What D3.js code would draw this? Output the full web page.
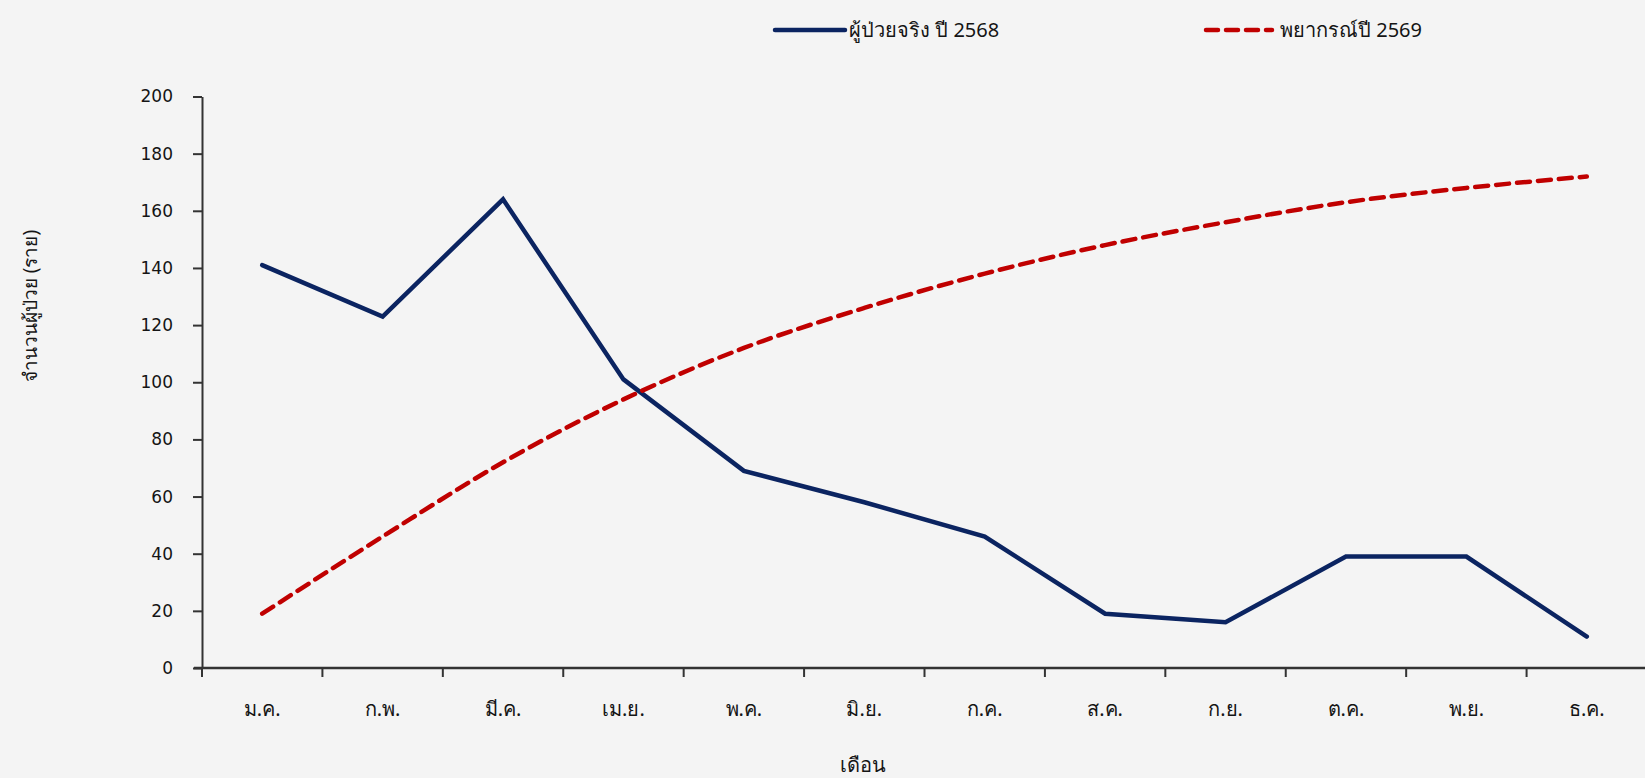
<!DOCTYPE html>
<html>
<head>
<meta charset="utf-8">
<script src="https://cdn.jsdelivr.net/npm/d3@7"></script>
<style>
  html, body { margin: 0; padding: 0; background: #f4f4f4; }
  svg { display: block; }
  text { font-family: "Noto Sans", "DejaVu Sans", sans-serif; fill: #151515; }
</style>
</head>
<body>
<svg id="chart" width="1645" height="778"></svg>
<script>
// Months (Thai abbreviations)
const months = ["ม.ค.", "ก.พ.", "มี.ค.", "เม.ย.", "พ.ค.", "มิ.ย.", "ก.ค.", "ส.ค.", "ก.ย.", "ต.ค.", "พ.ย.", "ธ.ค."];
// Actual patients, 2568
const actual2568 = [141, 123, 164, 101, 69, 58, 46, 19, 16, 39, 39, 11];
// Forecast, 2569
const forecast2569 = [19, 46, 72, 94, 112, 126, 138, 148, 156, 163, 168, 172];
const yTicks = [0, 20, 40, 60, 80, 100, 120, 140, 160, 180, 200];

const seriesNames = ["ผู้ป่วยจริง ปี 2568", "พยากรณ์ปี 2569"];
const colors = ["#0b2461", "#c00000"];

const svg = d3.select("#chart");
const W = 1645, H = 778;
svg.append("rect").attr("width", W).attr("height", H).attr("fill", "#f4f4f4");

const x = d3.scaleBand().domain(months).range([202, 1647]).paddingInner(0).paddingOuter(0);
const y = d3.scaleLinear().domain([0, 200]).range([668, 96.5]);

// Y axis
const yAxis = svg.append("g")
  .attr("transform", "translate(202,0)")
  .call(d3.axisLeft(y).tickValues(yTicks).tickSize(9).tickPadding(20).tickSizeOuter(0));
yAxis.select(".domain").attr("stroke", "#333").attr("stroke-width", 2);
yAxis.selectAll(".tick line").attr("stroke", "#333").attr("stroke-width", 2);
yAxis.selectAll(".tick text").attr("font-size", 17).attr("fill", "#151515")
  .style("font-family", "'DejaVu Sans', sans-serif");

// X axis with ticks at band boundaries
const xAxisG = svg.append("g").attr("transform", "translate(0,668)");
xAxisG.append("line").attr("x1", 194).attr("x2", 1647).attr("stroke", "#333").attr("stroke-width", 2.5);
const boundaries = months.map(m => x(m));
xAxisG.selectAll("line.tk").data(boundaries).join("line")
  .attr("class", "tk").attr("x1", d => d).attr("x2", d => d)
  .attr("y1", 0).attr("y2", 9).attr("stroke", "#333").attr("stroke-width", 2);
xAxisG.selectAll("text.lbl").data(months).join("text")
  .attr("class", "lbl")
  .attr("x", d => x(d) + x.bandwidth() / 2)
  .attr("y", 48)
  .attr("text-anchor", "middle")
  .attr("font-size", 20)
  .text(d => d);

// Axis titles
svg.append("text")
  .attr("transform", "translate(37,306) rotate(-90)")
  .attr("text-anchor", "middle")
  .attr("font-size", 19)
  .text("จำนวนผู้ป่วย (ราย)");
svg.append("text")
  .attr("x", 863).attr("y", 772)
  .attr("text-anchor", "middle")
  .attr("font-size", 20)
  .text("เดือน");

const cx = m => x(m) + x.bandwidth() / 2;

// Actual line
const lineActual = d3.line().x((d, i) => cx(months[i])).y(d => y(d));
svg.append("path").datum(actual2568)
  .attr("d", lineActual)
  .attr("fill", "none").attr("stroke", colors[0]).attr("stroke-width", 4.5)
  .attr("stroke-linejoin", "miter").attr("stroke-linecap", "round");

// Forecast line (smoothed, dashed)
const lineForecast = d3.line().x((d, i) => cx(months[i])).y(d => y(d)).curve(d3.curveMonotoneX);
svg.append("path").datum(forecast2569)
  .attr("d", lineForecast)
  .attr("fill", "none").attr("stroke", colors[1]).attr("stroke-width", 4.5)
  .attr("stroke-dasharray", "13,8").attr("stroke-linecap", "round");

// Legend
const legend = svg.append("g");
legend.append("line").attr("x1", 775).attr("x2", 845).attr("y1", 30).attr("y2", 30)
  .attr("stroke", colors[0]).attr("stroke-width", 4.5).attr("stroke-linecap", "round");
legend.append("text").attr("x", 849).attr("y", 37).attr("font-size", 20).text(seriesNames[0]);
legend.append("line").attr("x1", 1206).attr("x2", 1272).attr("y1", 30).attr("y2", 30)
  .attr("stroke", colors[1]).attr("stroke-width", 4.5).attr("stroke-dasharray", "12,8").attr("stroke-linecap", "round");
legend.append("text").attr("x", 1280).attr("y", 37).attr("font-size", 20).text(seriesNames[1]);
</script>
</body>
</html>
